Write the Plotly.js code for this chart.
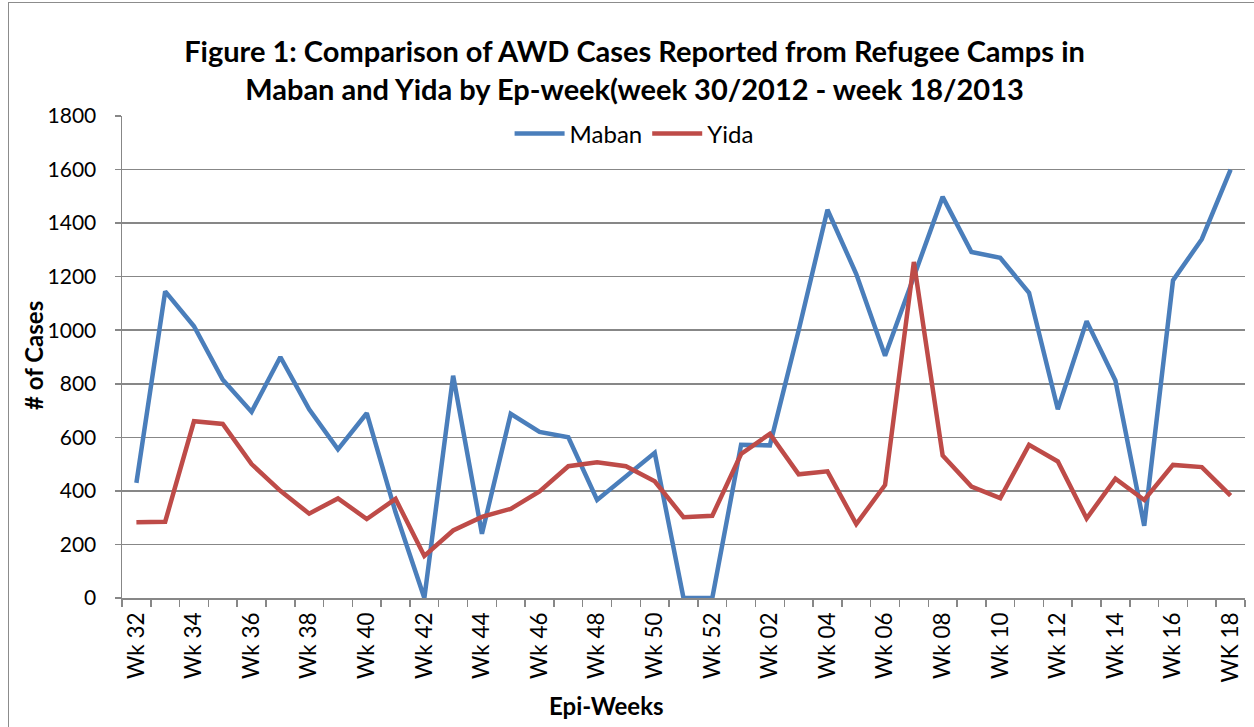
<!DOCTYPE html>
<html>
<head>
<meta charset="utf-8">
<script src="https://cdn.plot.ly/plotly-3.0.1.min.js"></script>
<style>
  html, body { margin: 0; padding: 0; background: #ffffff; overflow: hidden; }
  #frame { position: absolute; left: 8px; top: 2px; width: 1400px; height: 900px;
           border: 1.5px solid #8c8c8c; box-sizing: border-box; }
  #chart { position: absolute; left: 0; top: 0; width: 1254px; height: 727px; }
</style>
</head>
<body>
<div id="frame"></div>
<div id="chart"></div>
<script>
// Epi-week categories (week 32/2012 .. week 18/2013)
const weeks = ["Wk 32","Wk 33","Wk 34","Wk 35","Wk 36","Wk 37","Wk 38","Wk 39","Wk 40","Wk 41",
               "Wk 42","Wk 43","Wk 44","Wk 45","Wk 46","Wk 47","Wk 48","Wk 49","Wk 50","Wk 51",
               "Wk 52","Wk 01","Wk 02","Wk 03","Wk 04","Wk 05","Wk 06","Wk 07","Wk 08","Wk 09",
               "Wk 10","Wk 11","Wk 12","Wk 13","Wk 14","Wk 15","Wk 16","Wk 17","WK 18"];

// Tick labels shown (every other week)
const tickLabels = ["Wk 32","","Wk 34","","Wk 36","","Wk 38","","Wk 40","",
                    "Wk 42","","Wk 44","","Wk 46","","Wk 48","","Wk 50","",
                    "Wk 52","","Wk 02","","Wk 04","","Wk 06","","Wk 08","",
                    "Wk 10","","Wk 12","","Wk 14","","Wk 16","","WK 18"];

const maban = [430, 1145, 1015, 815, 695, 900, 705, 555, 690, 320,
               0, 830, 240, 688, 620, 600, 366, 455, 542, 0,
               0, 572, 570, 1000, 1450, 1210, 905, 1200, 1498, 1292,
               1270, 1140, 705, 1034, 812, 270, 1186, 1340, 1600];

const yida = [283, 285, 660, 650, 500, 400, 315, 372, 295, 370,
              157, 252, 303, 333, 398, 492, 507, 492, 436, 302,
              307, 538, 613, 462, 473, 276, 422, 1255, 532, 416,
              373, 572, 510, 297, 446, 366, 497, 489, 382];

const yTicks = [0, 200, 400, 600, 800, 1000, 1200, 1400, 1600, 1800];

const FONT = "Lato, 'Open Sans', 'DejaVu Sans', sans-serif";
const GRID = "#878787";

const traces = [
  { x: weeks, y: maban, name: "Maban", type: "scatter", mode: "lines",
    line: { color: "#4A7EBB", width: 4.5 } },
  { x: weeks, y: yida, name: "Yida", type: "scatter", mode: "lines",
    line: { color: "#BE4B48", width: 4.5 } }
];

const layout = {
  width: 1254, height: 727,
  margin: { l: 122, r: 9, t: 116, b: 129 },
  paper_bgcolor: "rgba(0,0,0,0)",
  plot_bgcolor: "rgba(0,0,0,0)",
  font: { family: FONT, color: "#000000", size: 21 },
  title: {
    text: "<b>Figure 1: Comparison of AWD Cases Reported from Refugee Camps in<br>Maban and Yida by Ep-week(week 30/2012 - week 18/2013</b>",
    font: { family: FONT, size: 29, color: "#000000" },
    xref: "container", x: 0.506, xanchor: "center",
    yref: "container", y: 1 - 62 / 727, yanchor: "middle"
  },
  showlegend: true,
  legend: {
    orientation: "h",
    x: 0.456, xanchor: "center",
    y: 0.963, yanchor: "middle",
    bgcolor: "#ffffff",
    font: { family: FONT, size: 24, color: "#000000" },
    itemwidth: 50,
    traceorder: "normal"
  },
  xaxis: {
    type: "category",
    categoryorder: "array",
    categoryarray: weeks,
    tickmode: "array",
    tickvals: weeks,
    ticktext: tickLabels,
    tickson: "boundaries",
    range: [-0.5, weeks.length - 0.5],
    tickangle: -90,
    ticks: "outside",
    ticklen: 7,
    tickwidth: 1.5,
    tickcolor: GRID,
    showline: true,
    linecolor: GRID,
    linewidth: 1.5,
    showgrid: false,
    zeroline: false,
    ticklabelstandoff: 4,
    tickfont: { family: FONT, size: 22.5, color: "#000000" },
    fixedrange: true
  },
  yaxis: {
    range: [0, 1800],
    tickmode: "array",
    tickvals: yTicks,
    ticktext: yTicks.map(String),
    ticks: "outside",
    ticklen: 6,
    tickwidth: 1.5,
    tickcolor: GRID,
    showline: true,
    linecolor: GRID,
    linewidth: 1.5,
    showgrid: true,
    gridcolor: GRID,
    gridwidth: 1.5,
    zeroline: false,
    ticklabelstandoff: 14,
    tickfont: { family: FONT, size: 21, color: "#000000" },
    fixedrange: true
  },
  annotations: [
    { text: "<b>Epi-Weeks</b>", xref: "paper", yref: "paper",
      x: (606 - 122) / 1123, y: (598 - 705) / 482, xanchor: "center", yanchor: "middle",
      showarrow: false, font: { family: FONT, size: 24, color: "#000000" } },
    { text: "<b># of Cases</b>", xref: "paper", yref: "paper",
      x: (33 - 122) / 1123, y: (598 - 356) / 482, xanchor: "center", yanchor: "middle",
      textangle: -90, showarrow: false, font: { family: FONT, size: 24, color: "#000000" } }
  ]
};

Plotly.newPlot("chart", traces, layout, { displayModeBar: false, staticPlot: true });
</script>
</body>
</html>
